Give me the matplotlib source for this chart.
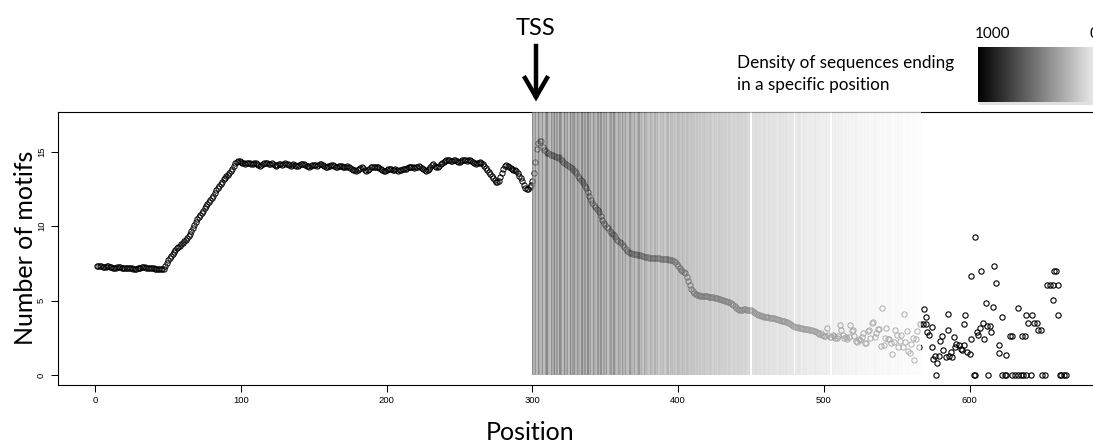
import numpy as np
import matplotlib.pyplot as plt
from matplotlib.lines import Line2D
from matplotlib.patches import Rectangle

plt.rcParams['font.family'] = ['Liberation Sans', 'DejaVu Sans']

########################## Dados ##########################
# Number of motifs at each position, positions 1..565 (one value per position)
motifs = [
    7.34, 7.33, 7.31, 7.30, 7.28, 7.26, 7.27, 7.29, 7.30, 7.28,        # 1
    7.25, 7.22, 7.20, 7.21, 7.24, 7.26, 7.25, 7.22, 7.20, 7.18,        # 11
    7.18, 7.20, 7.22, 7.21, 7.18, 7.15, 7.13, 7.14, 7.16, 7.19,        # 21
    7.22, 7.24, 7.25, 7.23, 7.20, 7.18, 7.20, 7.22, 7.21, 7.18,        # 31
    7.15, 7.14, 7.12, 7.10, 7.10, 7.12, 7.15, 7.35, 7.55, 7.72,        # 41
    7.88, 8.02, 8.13, 8.25, 8.38, 8.50, 8.60, 8.68, 8.78, 8.90,        # 51
    9.00, 9.07, 9.18, 9.32, 9.48, 9.68, 9.85, 10.05, 10.30, 10.50,     # 61
    10.62, 10.75, 10.90, 11.05, 11.20, 11.35, 11.50, 11.65, 11.78, 11.90,  # 71
    12.05, 12.25, 12.45, 12.60, 12.72, 12.85, 13.00, 13.15, 13.25, 13.35,  # 81
    13.45, 13.58, 13.72, 13.88, 14.05, 14.22, 14.32, 14.37, 14.36, 14.33,  # 91
    14.28, 14.22, 14.20, 14.24, 14.27, 14.22, 14.18, 14.20, 14.25, 14.22,  # 101
    14.15, 14.10, 14.08, 14.12, 14.18, 14.22, 14.25, 14.22, 14.18, 14.20,  # 111
    14.22, 14.18, 14.12, 14.08, 14.10, 14.15, 14.16, 14.14, 14.18, 14.22,  # 121
    14.20, 14.15, 14.10, 14.08, 14.12, 14.16, 14.12, 14.08, 14.05, 14.10,  # 131
    14.15, 14.20, 14.18, 14.12, 14.08, 14.02, 14.00, 14.05, 14.10, 14.14,  # 141
    14.12, 14.08, 14.10, 14.15, 14.18, 14.14, 14.08, 14.00, 13.96, 14.02,  # 151
    14.08, 14.12, 14.10, 14.05, 14.00, 13.97, 14.02, 14.08, 14.05, 14.00,  # 161
    13.95, 13.98, 14.04, 14.00, 13.92, 13.85, 13.80, 13.75, 13.72, 13.78,  # 171
    13.85, 13.92, 13.98, 13.90, 13.78, 13.70, 13.75, 13.85, 13.95, 14.00,  # 181
    13.98, 13.95, 13.98, 14.00, 13.92, 13.85, 13.75, 13.68, 13.72, 13.80,  # 191
    13.85, 13.88, 13.82, 13.78, 13.80, 13.84, 13.78, 13.72, 13.75, 13.80,  # 201
    13.82, 13.85, 13.88, 13.92, 13.95, 13.98, 14.00, 13.96, 13.90, 13.95,  # 211
    14.00, 14.02, 13.98, 13.92, 13.85, 13.78, 13.72, 13.75, 13.85, 13.98,  # 221
    14.10, 14.15, 14.08, 14.00, 13.95, 14.05, 14.18, 14.28, 14.35, 14.40,  # 231
    14.45, 14.48, 14.42, 14.38, 14.40, 14.42, 14.44, 14.40, 14.35, 14.32,  # 241
    14.38, 14.45, 14.48, 14.44, 14.40, 14.42, 14.45, 14.40, 14.32, 14.25,  # 251
    14.20, 14.22, 14.28, 14.30, 14.25, 14.15, 14.05, 13.92, 13.78, 13.62,  # 261
    13.48, 13.35, 13.22, 13.10, 13.00, 12.95, 13.05, 13.30, 13.60, 13.85,  # 271
    14.05, 14.12, 14.08, 13.98, 13.92, 13.85, 13.80, 13.75, 13.68, 13.55,  # 281
    13.40, 13.22, 13.02, 12.80, 12.58, 12.48, 12.52, 12.62, 12.75, 13.05,  # 291
    13.60, 14.30, 15.20, 15.60, 15.76, 15.72, 15.30, 15.15, 15.05, 14.95,  # 301
    14.90, 14.85, 14.82, 14.78, 14.72, 14.68, 14.66, 14.62, 14.52, 14.42,  # 311
    14.32, 14.25, 14.18, 14.10, 14.02, 13.95, 13.90, 13.80, 13.68, 13.55,  # 321
    13.40, 13.25, 13.12, 13.02, 12.90, 12.72, 12.55, 12.30, 12.05, 11.75,  # 331
    11.55, 11.40, 11.28, 11.18, 11.10, 10.95, 10.70, 10.45, 10.20, 10.05,  # 341
    9.95, 9.85, 9.70, 9.55, 9.45, 9.38, 9.25, 9.10, 9.00, 8.92,        # 351
    8.85, 8.72, 8.58, 8.45, 8.35, 8.28, 8.22, 8.18, 8.15, 8.12,        # 361
    8.10, 8.08, 8.06, 8.05, 8.02, 7.98, 7.95, 7.93, 7.90, 7.88,        # 371
    7.86, 7.85, 7.84, 7.83, 7.85, 7.86, 7.84, 7.80, 7.78, 7.78,        # 381
    7.80, 7.80, 7.78, 7.75, 7.74, 7.72, 7.68, 7.58, 7.45, 7.32,        # 391
    7.18, 7.06, 6.98, 6.92, 6.85, 6.60, 6.30, 6.02, 5.80, 5.62,        # 401
    5.50, 5.42, 5.38, 5.35, 5.33, 5.31, 5.30, 5.30, 5.28, 5.28,        # 411
    5.26, 5.25, 5.24, 5.22, 5.20, 5.20, 5.16, 5.12, 5.08, 5.05,        # 421
    5.02, 4.98, 4.95, 4.92, 4.89, 4.85, 4.80, 4.72, 4.62, 4.50,        # 431
    4.40, 4.37, 4.36, 4.38, 4.40, 4.40, 4.38, 4.36, 4.38, 4.37,        # 441
    4.32, 4.25, 4.18, 4.10, 4.05, 4.02, 3.98, 3.95, 3.92, 3.90,        # 451
    3.88, 3.86, 3.84, 3.82, 3.82, 3.80, 3.78, 3.74, 3.70, 3.66,        # 461
    3.64, 3.62, 3.60, 3.58, 3.55, 3.50, 3.42, 3.35, 3.28, 3.25,        # 471
    3.22, 3.20, 3.18, 3.15, 3.12, 3.10, 3.10, 3.08, 3.06, 3.05,        # 481
    3.05, 3.02, 2.98, 2.92, 2.86, 2.80, 2.75, 2.80, 2.68, 2.62,        # 491
    2.62, 3.14, 2.70, 2.58, 2.55, 2.69, 2.60, 2.45, 2.50, 2.62,        # 501
    3.36, 3.00, 2.69, 2.48, 2.58, 2.40, 2.55, 3.36, 2.97, 3.03,        # 511
    2.62, 2.30, 2.24, 2.42, 2.35, 2.57, 2.80, 2.13, 2.13, 2.92,        # 521
    3.03, 2.51, 3.52, 3.59, 2.54, 2.80, 3.07, 3.07, 1.95, 4.53,        # 531
    2.02, 2.45, 3.14, 2.40, 2.40, 2.13, 1.41, 2.24, 3.03, 2.70,        # 541
    1.86, 2.30, 2.69, 1.90, 4.10, 2.20, 2.96, 1.60, 1.45, 2.06,        # 551
    2.51, 0.99, 2.40, 2.96, 1.90,                                      # 561
]

# Sparse tail after the shaded region (position, number of motifs)
tail_pos = [566, 568, 569, 570, 570, 571, 572, 574, 574, 575, 576, 577, 578,
            579, 580, 581, 582, 584, 585, 585, 586, 587, 588, 589, 590, 591,
            593, 594, 595, 596, 596, 597, 598, 600, 601, 601, 603, 604, 604,
            605, 606, 607, 608, 609, 610, 611, 612, 613, 614, 615, 616, 617,
            618, 620, 620, 622, 622, 624, 625, 625, 628, 629, 629, 631, 633,
            633, 635, 636, 637, 638, 639, 639, 640, 642, 643, 644, 646, 647,
            649, 650, 652, 653, 655, 657, 657, 658, 659, 661, 661, 662, 663,
            665, 666]
tail_val = [3.40, 3.43, 4.42, 3.43, 3.88, 2.89, 2.71, 3.25, 1.88, 1.10, 1.28,
            0.00, 0.78, 1.24, 2.26, 2.64, 1.68, 1.21, 4.08, 3.00, 1.28, 1.53,
            1.19, 2.53, 1.90, 2.08, 2.02, 1.74, 1.68, 2.02, 3.43, 4.01, 1.55,
            1.39, 6.66, 2.38, 0.00, 0.00, 9.30, 2.89, 2.71, 3.13, 7.01, 3.47,
            2.44, 4.86, 3.29, 0.00, 3.29, 2.89, 4.57, 7.33, 6.16, 2.00, 1.45,
            3.88, 0.00, 0.00, 0.00, 1.34, 2.61, 2.61, 0.00, 0.00, 0.00, 4.48,
            0.00, 2.64, 0.00, 2.64, 0.00, 4.01, 3.51, 0.00, 4.01, 3.51, 3.51,
            3.00, 3.00, 0.00, 0.00, 6.03, 6.03, 6.03, 5.02, 7.01, 7.01, 6.03,
            4.01, 0.00, 0.00, 0.00, 0.00]

# Density of sequences ending at each position (0..1000), positions 300..566
density_start = 300
density = [
    620, 430, 580, 380, 650, 470, 400, 610, 360, 540,   # 300
    660, 420, 380, 600, 470, 680, 400, 560, 370, 640,   # 310
    520, 390, 650, 460, 590, 380, 680, 430, 560, 620,   # 320
    410, 600, 480, 370, 640, 440, 570, 390, 660, 430,   # 330
    550, 380, 620, 450, 360, 590, 420, 610, 370, 520,   # 340
    410, 600, 350, 480, 570, 390, 620, 430, 370, 550,   # 350
    460, 360, 580, 410, 530, 380, 350, 560, 430, 400,   # 360
    510, 360, 430, 550, 370, 460, 330, 500, 400, 360,   # 370
    320, 450, 370, 300, 430, 340, 410, 290, 380, 340,   # 380
    400, 300, 350, 410, 280, 360, 390, 300, 340, 280,   # 390
    390, 350, 320, 380, 340, 300, 360, 330, 310, 350,   # 400
    300, 330, 280, 320, 290, 310, 270, 300, 330, 280,   # 410
    290, 260, 310, 280, 250, 300, 270, 240, 290, 260,   # 420
    270, 240, 280, 250, 230, 270, 250, 220, 260, 240,   # 430
    230, 260, 220, 240, 250, 210, 230, 240, 200, 220,   # 440
    0, 190, 170, 200, 180, 160, 190, 170, 150, 180,     # 450
    170, 150, 180, 160, 140, 170, 150, 160, 140, 130,   # 460
    160, 140, 150, 130, 160, 140, 120, 150, 130, 140,   # 470
    0, 130, 110, 140, 120, 100, 130, 110, 120, 100,     # 480
    110, 120, 100, 90, 120, 100, 110, 90, 100, 80,      # 490
    100, 90, 110, 80, 100, 0, 90, 80, 95, 70,           # 500
    85, 75, 90, 70, 60, 80, 65, 75, 55, 70,             # 510
    60, 50, 70, 55, 45, 60, 50, 40, 55, 45,             # 520
    50, 40, 30, 45, 35, 50, 40, 30, 45, 25,             # 530
    40, 35, 30, 25, 40, 30, 35, 25, 20, 30,             # 540
    25, 35, 20, 30, 25, 15, 25, 20, 30, 15,             # 550
    20, 15, 25, 10, 20, 15, 10,                         # 560
]

x_ticks = [0, 100, 200, 300, 400, 500, 600]
y_ticks = [0, 5, 10, 15]

########################## Figura ##########################
W, H = 1093, 443
fig = plt.figure(figsize=(W / 100, H / 100), dpi=100)

# helpers: pixel position (from top-left) -> figure fraction
def fx(px):
  return px / W

def fy(py):
  return 1 - py / H

ax = fig.add_axes([fx(58), fy(385), (1103 - 58) / W, (385 - 112) / H])

pos = np.arange(1, len(motifs) + 1)
ax.plot(pos, motifs, linestyle='', marker='o', mfc='none', mec='black',
        ms=3.8, mew=0.7, zorder=2)
ax.plot(tail_pos, tail_val, linestyle='', marker='o', mfc='none', mec='black',
        ms=3.8, mew=0.8, zorder=2)

# shaded vertical lines (one per position), drawn over the points
dpos = np.arange(density_start, density_start + len(density))
grey = 1 - np.array(density) / 1000.0
cols = [(g, g, g) for g in grey]
ax.bar(dpos, 30, bottom=0, width=1.0, color=cols, alpha=0.7, linewidth=0,
       zorder=3)

ax.set_xlim(-25.6, 691.6)
ax.set_ylim(-0.68, 17.68)

ax.set_xticks(x_ticks)
ax.set_yticks(y_ticks)
ax.set_yticklabels([str(v) for v in y_ticks], rotation=90, va='center')
ax.tick_params(axis='x', length=4.7, width=0.75, pad=3.5, labelsize=6.8)
ax.tick_params(axis='y', length=4.7, width=0.75, pad=4, labelsize=6.8)
for s in ax.spines.values():
  s.set_linewidth(0.8)

# axis titles and annotations (Calibri-like font)
fig.text(fx(530), fy(440), 'Position', ha='center', va='baseline',
         fontsize=18, family='Lato')
fig.text(fx(33), fy(248), 'Number of motifs', ha='center', va='baseline',
         rotation=90, rotation_mode='anchor', fontsize=18, family='Lato')
fig.text(fx(536), fy(35), 'TSS', ha='center', va='baseline',
         fontsize=17, family='Lato')

# TSS arrow
fig.add_artist(Line2D([fx(536), fx(536)], [fy(46), fy(96)], lw=3.2,
                      color='black', transform=fig.transFigure))
fig.add_artist(Line2D([fx(525), fx(536), fx(547)], [fy(78), fy(97), fy(78)],
                      lw=3.2, color='black', solid_joinstyle='miter',
                      transform=fig.transFigure))

fig.text(fx(737), fy(68), 'Density of sequences ending', ha='left',
         va='baseline', fontsize=12.3, family='Lato')
fig.text(fx(737), fy(90), 'in a specific position', ha='left',
         va='baseline', fontsize=12.3, family='Lato')

# gradient legend: 1000 (black) -> 0 (white), with a soft shadow
fig.add_artist(Rectangle((fx(979), fy(105)), (1110 - 979) / W, (105 - 49) / H,
                         facecolor='#d4d4d4', edgecolor='none', alpha=0.7,
                         zorder=-1, transform=fig.transFigure))
cax = fig.add_axes([fx(978), fy(102), (1105 - 978) / W, (102 - 47) / H])
cax.imshow(np.linspace(0, 1, 256).reshape(1, -1), cmap='gray', aspect='auto',
           vmin=0, vmax=1)
cax.set_axis_off()
fig.text(fx(975), fy(38), '1000', ha='left', va='baseline', fontsize=11,
         family='Lato')
fig.text(fx(1089), fy(38), '0', ha='left', va='baseline', fontsize=11,
         family='Lato')

plt.savefig('out.png', dpi=100)
